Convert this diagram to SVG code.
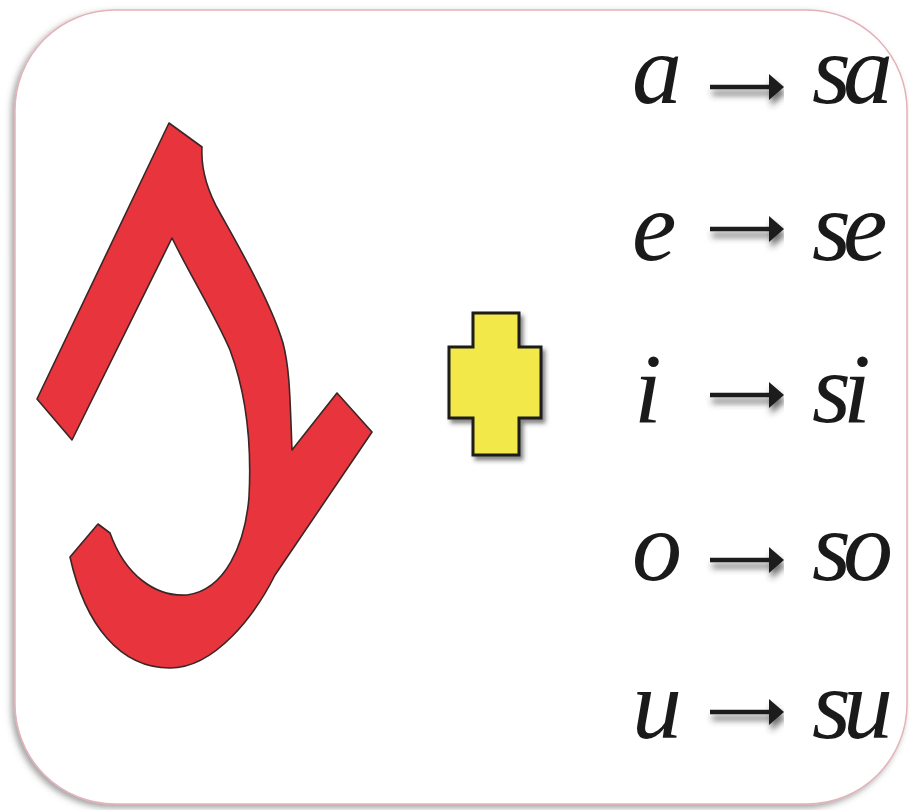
<svg xmlns="http://www.w3.org/2000/svg" width="909" height="810" viewBox="0 0 909 810">
  <defs>
    <filter id="cardShadow" x="-5%" y="-5%" width="110%" height="110%">
      <feDropShadow dx="-3" dy="3" stdDeviation="3" flood-color="#555" flood-opacity="0.55"/>
    </filter>
    <filter id="plusShadow" x="-20%" y="-20%" width="150%" height="150%">
      <feDropShadow dx="3" dy="4" stdDeviation="2" flood-color="#333" flood-opacity="0.6"/>
    </filter>
    <filter id="arrowShadow" x="-10%" y="-100%" width="130%" height="400%">
      <feDropShadow dx="2" dy="6" stdDeviation="3" flood-color="#333" flood-opacity="0.7"/>
    </filter>
    <marker id="head" markerUnits="userSpaceOnUse" markerWidth="18" markerHeight="28" refX="2" refY="14" orient="auto">
      <polygon points="0,1 15,14 0,27" fill="#1e1e1e"/>
    </marker>
  </defs>
  <style>
    .card { fill: #ffffff; stroke: #e3b3b9; stroke-width: 1.5; }
    .big { fill: #e8343d; stroke: #3a2626; stroke-width: 1.6; stroke-linejoin: round; }
    .plus { fill: #f2e84a; stroke: #1c1c1c; stroke-width: 3; }
    .lt { font-family: "Liberation Serif", "DejaVu Serif", serif; font-style: italic; font-size: 100px; fill: #1a1a1a; }
    .conn { stroke: #1e1e1e; stroke-width: 4.5; fill: none; }
  </style>

  <rect x="0" y="0" width="909" height="810" fill="#ffffff"/>
  <rect id="card" class="card" x="15" y="10" width="892" height="794" rx="100" ry="100" filter="url(#cardShadow)"/>

  <g id="letter-s">
    <path class="big" d="M169,123 L202,147 C201,165 204,185 220,213 C235,240 270,300 283,343 C290,370 290,400 292,450 L337,393 L372,432 L275,575 C255,615 215,668 170,668 C120,668 85,625 70,557 L98,524 L110,533 C125,575 155,597 187,595 C225,590 245,545 249,497 C252,440 245,390 230,350 C215,315 190,275 172,238 L72,440 L37,399 Z"/>
  </g>

  <g id="plus">
    <polygon class="plus" filter="url(#plusShadow)" points="473,313 519,313 519,347 541,347 541,418 519,418 519,455 473,455 473,418 449,418 449,347 473,347"/>
  </g>

  <g id="row-a">
    <text class="lt" x="632" y="103">a</text>
    <text class="lt" x="812" y="103" letter-spacing="-8">sa</text>
  </g>
  <g id="row-e">
    <text class="lt" x="632" y="260">e</text>
    <text class="lt" x="812" y="260" letter-spacing="-8">se</text>
  </g>
  <g id="row-i">
    <text class="lt" x="634" y="422">i</text>
    <text class="lt" x="812" y="422" letter-spacing="-8">si</text>
  </g>
  <g id="row-o">
    <text class="lt" x="632" y="580">o</text>
    <text class="lt" x="812" y="580" letter-spacing="-8">so</text>
  </g>
  <g id="row-u">
    <text class="lt" x="632" y="738">u</text>
    <text class="lt" x="812" y="738" letter-spacing="-8">su</text>
  </g>

  <g id="connectors" filter="url(#arrowShadow)">
    <line class="conn" x1="710" y1="87" x2="771" y2="87" marker-end="url(#head)"/>
    <line class="conn" x1="710" y1="229" x2="771" y2="229" marker-end="url(#head)"/>
    <line class="conn" x1="710" y1="395" x2="771" y2="395" marker-end="url(#head)"/>
    <line class="conn" x1="710" y1="560" x2="771" y2="560" marker-end="url(#head)"/>
    <line class="conn" x1="710" y1="712" x2="771" y2="712" marker-end="url(#head)"/>
  </g>
</svg>
